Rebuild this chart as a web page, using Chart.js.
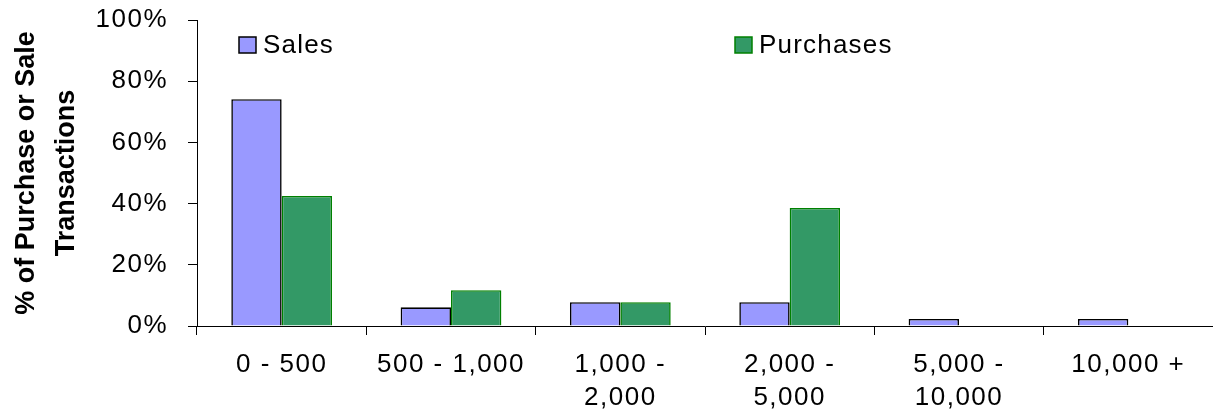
<!DOCTYPE html>
<html><head><meta charset="utf-8">
<script src="https://cdn.jsdelivr.net/npm/chart.js@4/dist/chart.umd.min.js"></script>
<style>html,body{margin:0;padding:0;background:#fff;} #wrap{width:1213px;height:413px;position:relative;}</style>
</head><body><div id="wrap"><canvas id="c"></canvas></div>
<script>
const categories = ["0 - 500", "500 - 1,000", ["1,000 -", "2,000"], ["2,000 -", "5,000"], ["5,000 -", "10,000"], "10,000 +"];
const salesValues = [74.1, 6.1, 7.8, 7.8, 2.3, 2.3];
const purchaseValues = [42.5, 11.7, 7.8, 38.6, 0, 0];
const yTickValues = [0, 20, 40, 60, 80, 100];
const seriesNames = ["Sales", "Purchases"];
const yTitle = ["% of Purchase or Sale", "Transactions"];

Chart.defaults.font.family = '"Liberation Sans", Arial, sans-serif';
Chart.defaults.color = '#000';

const spacingPlugin = {
  id: 'spacing',
  beforeDraw(chart) { chart.ctx.letterSpacing = '0px'; },
  afterDatasetsDraw(chart) { chart.ctx.letterSpacing = '1.5px'; },
  afterDraw(chart) { chart.ctx.letterSpacing = '0px'; }
};

const legendPlugin = {
  id: 'customLegend',
  afterDraw(chart) {
    const ctx = chart.ctx;
    const xs = [239, 735];
    ctx.save();
    ctx.letterSpacing = '1.2px';
    chart.data.datasets.forEach((ds, i) => {
      const x = xs[i], y = 37;
      ctx.fillStyle = ds.backgroundColor;
      ctx.fillRect(x, y, 17, 16);
      ctx.strokeStyle = ds.borderColor;
      ctx.lineWidth = 1.5;
      ctx.strokeRect(x, y, 17, 16);
      ctx.fillStyle = '#000';
      ctx.font = '26px "Liberation Sans", Arial, sans-serif';
      ctx.textBaseline = 'alphabetic';
      ctx.textAlign = 'left';
      ctx.fillText(ds.label, x + 24, 53);
    });
    ctx.restore();
  }
};

new Chart(document.getElementById('c'), {
  type: 'bar',
  data: {
    labels: categories,
    datasets: [
      { label: seriesNames[0], data: salesValues, backgroundColor: '#9999FF', borderColor: '#000000', borderWidth: 1.6 },
      { label: seriesNames[1], data: purchaseValues, backgroundColor: '#339966', borderColor: '#008000', borderWidth: 1.6 }
    ]
  },
  options: {
    responsive: true,
    maintainAspectRatio: false,
    animation: false,
    categoryPercentage: 0.595,
    barPercentage: 1.0,
    layout: { padding: { top: 20, right: 0, left: 0, bottom: 0 } },
    plugins: { legend: { display: false }, tooltip: { enabled: false } },
    scales: {
      x: {
        ticks: { font: { size: 26, lineHeight: 1.25 }, color: '#000', padding: 14, maxRotation: 0, autoSkip: false, z: 1 },
        grid: { drawOnChartArea: false, drawTicks: true, tickLength: 9, color: '#000', offset: true },
        border: { color: '#000', width: 1 },
        afterFit(scale) { scale.height = 87; scale.paddingLeft = 0; scale.paddingRight = 0; }
      },
      y: {
        min: 0, max: 100,
        afterBuildTicks(scale) { scale.ticks = yTickValues.map(v => ({ value: v })); },
        ticks: { callback: v => v + '%', font: { size: 26 }, color: '#000', padding: 20, z: 1 },
        grid: { drawOnChartArea: false, drawTicks: true, tickLength: 9, color: '#000' },
        border: { color: '#000', width: 1 },
        title: { display: true, text: yTitle, color: '#000', font: { size: 27, weight: 'bold', lineHeight: 1.5 }, padding: { top: 6, bottom: 0 } },
        afterFit(scale) { scale.width = 197; scale.paddingTop = 0; scale.paddingBottom = 0; }
      }
    }
  },
  plugins: [spacingPlugin, legendPlugin]
});
</script>
</body></html>
